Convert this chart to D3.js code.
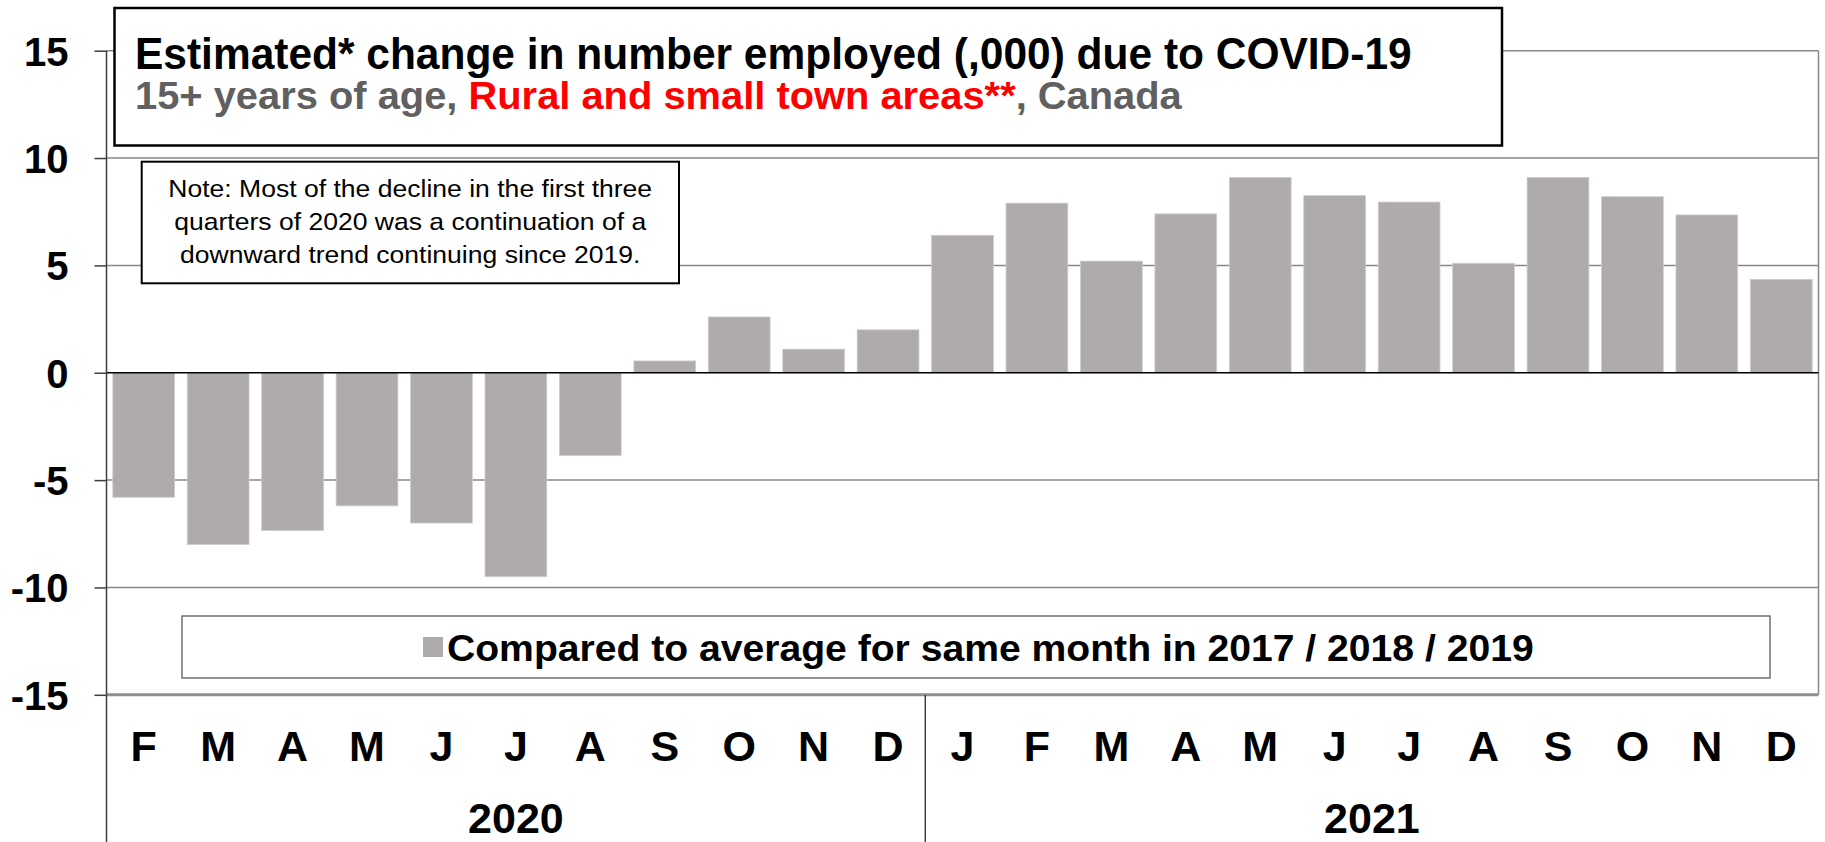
<!DOCTYPE html>
<html>
<head>
<meta charset="utf-8">
<script src="https://cdn.jsdelivr.net/npm/d3@7"></script>
<style>
  html, body { margin: 0; padding: 0; background: #fff; }
  svg { display: block; font-family: "Liberation Sans", Arial, Helvetica, sans-serif; }
</style>
</head>
<body>
<svg id="chart" width="1825" height="842"></svg>
<script>
// ---- data -------------------------------------------------------------
const categories = [
  "2020-02", "2020-03", "2020-04", "2020-05", "2020-06", "2020-07", "2020-08",
  "2020-09", "2020-10", "2020-11", "2020-12",
  "2021-01", "2021-02", "2021-03", "2021-04", "2021-05", "2021-06", "2021-07",
  "2021-08", "2021-09", "2021-10", "2021-11", "2021-12"
];
const monthLabels = [
  "F", "M", "A", "M", "J", "J", "A", "S", "O", "N", "D",
  "J", "F", "M", "A", "M", "J", "J", "A", "S", "O", "N", "D"
];
// change in number employed (,000) vs. average of same month 2017-2019
const values = [
  -5.8, -8.0, -7.35, -6.2, -7.0, -9.5, -3.85, 0.55, 2.6, 1.1, 2.0,
  6.4, 7.9, 5.2, 7.4, 9.1, 8.25, 7.95, 5.1, 9.1, 8.2, 7.35, 4.35
];
const years = ["2020", "2021"];
const yTicks = [-15, -10, -5, 0, 5, 10, 15];

const titleText = "Estimated* change in number employed (,000) due to COVID-19";
const subtitleParts = ["15+ years of age, ", "Rural and small town areas**", ", Canada"];
const noteLines = [
  "Note: Most of the decline in the first three",
  "quarters of 2020 was a continuation of a",
  "downward trend continuing since 2019."
];
const legendLabel = "Compared to average for same month in 2017 / 2018 / 2019";

// ---- layout -----------------------------------------------------------
const W = 1825, H = 842;
const plot = { left: 106.5, right: 1818.5, top: 50.7, bottom: 694.8 };
const barColor = "#AFABAB";
const gridColor = "#878787";
const axisColor = "#3f3f3f";
const subtitleColors = ["#606060", "#FF0000", "#606060"];

const svg = d3.select("#chart");

const x = d3.scaleBand()
  .domain(categories)
  .range([plot.left, plot.right])
  .paddingInner(0.17)
  .paddingOuter(0.085);

const y = d3.scaleLinear()
  .domain([-15, 15])
  .range([plot.bottom, plot.top]);

// stretch a text element horizontally so it spans a given width
function fitWidth(sel, left, baseline, width) {
  const w = sel.node().getComputedTextLength();
  sel.attr("x", 0).attr("y", 0)
    .attr("transform", `translate(${left},${baseline}) scale(${width / w},1)`);
}

// ---- gridlines --------------------------------------------------------
const grid = svg.append("g");
grid.selectAll("line")
  .data(yTicks.filter(d => d !== 0))
  .join("line")
  .attr("x1", plot.left).attr("x2", plot.right)
  .attr("y1", d => y(d)).attr("y2", d => y(d))
  .attr("stroke", d => d === -15 ? "#8f8f8f" : gridColor)
  .attr("stroke-width", d => d === -15 ? 3 : 1.5);

// right border of the plot area
svg.append("line")
  .attr("x1", plot.right).attr("x2", plot.right)
  .attr("y1", y(15)).attr("y2", y(-15))
  .attr("stroke", gridColor).attr("stroke-width", 1.5);

// ---- bars -------------------------------------------------------------
svg.append("g")
  .selectAll("rect")
  .data(categories.map((c, i) => ({ c, v: values[i] })))
  .join("rect")
  .attr("x", d => x(d.c))
  .attr("width", x.bandwidth())
  .attr("y", d => y(Math.max(0, d.v)))
  .attr("height", d => Math.abs(y(d.v) - y(0)))
  .attr("fill", barColor)
  .attr("stroke", "#cfcdcd")
  .attr("stroke-width", 0.8);

// zero line
svg.append("line")
  .attr("x1", plot.left).attr("x2", plot.right)
  .attr("y1", y(0)).attr("y2", y(0))
  .attr("stroke", "#000").attr("stroke-width", 1.5);

// ---- y axis -----------------------------------------------------------
const yAxis = svg.append("g")
  .attr("transform", `translate(${plot.left},0)`)
  .call(d3.axisLeft(y).tickValues(yTicks).tickSize(12).tickPadding(26)
    .tickFormat(d => String(d)));
yAxis.select(".domain").remove();
yAxis.selectAll(".tick line").attr("stroke", axisColor).attr("stroke-width", 1.5);
yAxis.selectAll(".tick text")
  .attr("fill", "#000")
  .attr("font-size", 40)
  .attr("font-weight", "bold")
  .attr("font-family", "'Liberation Sans', Arial, sans-serif")
  .attr("dy", "0.36em");

// vertical axis line continues down through the category labels
svg.append("line")
  .attr("x1", plot.left).attr("x2", plot.left)
  .attr("y1", y(15)).attr("y2", H)
  .attr("stroke", axisColor).attr("stroke-width", 1.5);

// ---- x axis: months and years -----------------------------------------
const half = x.step() * x.paddingInner() / 2;
const monthBaseline = 761;
const yearBaseline = 832.5;

svg.append("g")
  .selectAll("text")
  .data(categories)
  .join("text")
  .attr("x", d => x(d) + x.bandwidth() / 2)
  .attr("y", monthBaseline)
  .attr("text-anchor", "middle")
  .attr("font-size", 43)
  .attr("font-weight", "bold")
  .attr("fill", "#000")
  .text((d, i) => monthLabels[i]);

years.forEach((yr, k) => {
  const cats = categories.filter(c => c.startsWith(yr));
  const x0 = x(cats[0]) - half;
  const x1 = x(cats[cats.length - 1]) + x.bandwidth() + half;
  svg.append("text")
    .attr("x", (x0 + x1) / 2)
    .attr("y", yearBaseline)
    .attr("text-anchor", "middle")
    .attr("font-size", 43)
    .attr("font-weight", "bold")
    .attr("fill", "#000")
    .text(yr);
  if (k > 0) {
    svg.append("line")
      .attr("x1", x0).attr("x2", x0)
      .attr("y1", plot.bottom).attr("y2", H)
      .attr("stroke", axisColor).attr("stroke-width", 1.5);
  }
});

// ---- title box --------------------------------------------------------
svg.append("rect")
  .attr("x", 114.5).attr("y", 8)
  .attr("width", 1387.5).attr("height", 137.5)
  .attr("fill", "#fff")
  .attr("stroke", "#000").attr("stroke-width", 2.5);

const title = svg.append("text")
  .attr("font-size", 44)
  .attr("font-weight", "bold")
  .attr("fill", "#000")
  .text(titleText);
fitWidth(title, 135, 68.5, 1277);

const subtitle = svg.append("text")
  .attr("font-size", 38)
  .attr("font-weight", "bold");
subtitle.selectAll("tspan")
  .data(subtitleParts)
  .join("tspan")
  .attr("fill", (d, i) => subtitleColors[i])
  .text(d => d);
fitWidth(subtitle, 135, 108.5, 1047);

// ---- note box ---------------------------------------------------------
svg.append("rect")
  .attr("x", 141.7).attr("y", 161.7)
  .attr("width", 537.3).attr("height", 121.6)
  .attr("fill", "#fff")
  .attr("stroke", "#000").attr("stroke-width", 2);

const noteCenter = 410.3;
const noteG = svg.append("g");
const noteTexts = noteLines.map((t, i) =>
  noteG.append("text")
    .attr("font-size", 24)
    .attr("fill", "#000")
    .text(t));
const noteScale = 484 / noteTexts[0].node().getComputedTextLength();
noteTexts.forEach((t, i) => {
  const w = t.node().getComputedTextLength() * noteScale;
  fitWidth(t, noteCenter - w / 2, 197 + i * 33, w);
});

// ---- legend -----------------------------------------------------------
svg.append("rect")
  .attr("x", 182).attr("y", 616)
  .attr("width", 1588).attr("height", 62)
  .attr("fill", "#fff")
  .attr("stroke", "#6f6f6f").attr("stroke-width", 1.5);

svg.append("rect")
  .attr("x", 423).attr("y", 637)
  .attr("width", 20).attr("height", 20)
  .attr("fill", barColor);

const legendText = svg.append("text")
  .attr("font-size", 36)
  .attr("font-weight", "bold")
  .attr("fill", "#000")
  .text(legendLabel);
fitWidth(legendText, 447, 660.5, 1087);
</script>
</body>
</html>
